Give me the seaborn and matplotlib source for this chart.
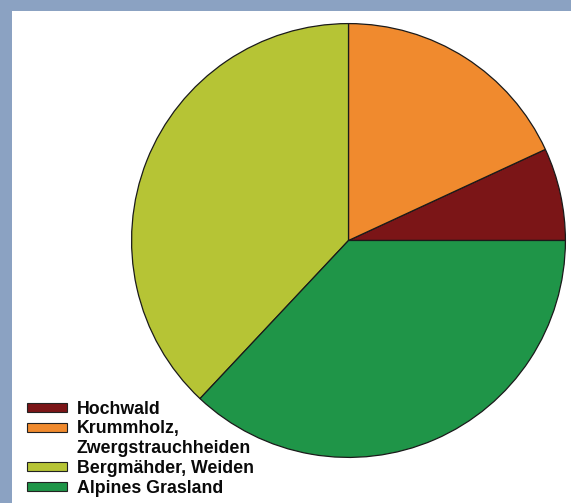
import matplotlib
matplotlib.use("Agg")
import matplotlib.pyplot as plt
import seaborn as sns
from matplotlib.patches import Rectangle, Patch

categories = ["Hochwald", "Krummholz,\nZwergstrauchheiden", "Bergmähder, Weiden", "Alpines Grasland"]
values = [6.9, 18.1, 38.0, 37.0]
colors = ["#7b1517", "#f08a2e", "#b6c435", "#1f9548"]

sns.set_theme(style="white")
plt.rcParams['font.family'] = ['Liberation Sans', 'DejaVu Sans']

fig = plt.figure(figsize=(5.71, 5.03), dpi=100)
fig.patch.set_facecolor("#8ba2c2")
bg = Rectangle((12/571, 0), 1, 1 - 11/503, transform=fig.transFigure,
               facecolor="white", edgecolor="none", zorder=-10)
fig.add_artist(bg)

ax = fig.add_axes([130.5/571, (503-458.5)/503, 436/571, 436/503])
ax.set_facecolor("none")
ax.set_zorder(1)
wedges, _ = ax.pie(values, colors=colors, startangle=0, counterclock=True, radius=1,
                   wedgeprops=dict(edgecolor="#1a1a1a", linewidth=0.9))
ax.set_xlim(-1.005, 1.005)
ax.set_ylim(-1.005, 1.005)
ax.set_aspect("equal")
ax.axis("off")

# legend: multi-line labels split so the swatch sits beside the first line
handles, labels = [], []
for c, cat in zip(colors, categories):
    parts = cat.split("\n")
    handles.append(Patch(facecolor=c, edgecolor="#222222", linewidth=0.8))
    labels.append(parts[0])
    for p in parts[1:]:
        handles.append(Patch(facecolor="none", edgecolor="none"))
        labels.append(p)

leg = fig.legend(handles, labels, loc="lower left",
                 bbox_to_anchor=(27/571, (503-497)/503), frameon=False,
                 prop=dict(weight="bold", size=12.8), borderpad=0, borderaxespad=0,
                 handlelength=2.25, handleheight=0.4, handletextpad=0.56,
                 labelspacing=0.16)
leg.set_zorder(5)
for t in leg.get_texts():
    t.set_color("#0a0a0a")

fig.savefig("out.png", dpi=100, facecolor=fig.get_facecolor())
